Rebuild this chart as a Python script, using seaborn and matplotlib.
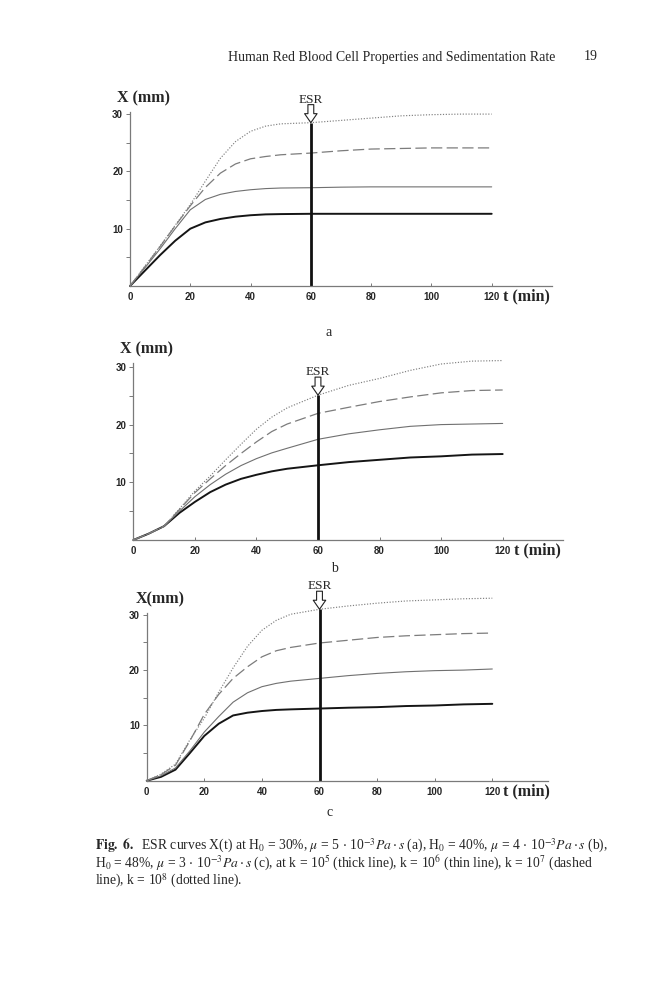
import numpy as np
import pandas as pd
import matplotlib
matplotlib.use("Agg")
import matplotlib.pyplot as plt
import seaborn as sns

# ---------------- data ----------------
t_points = [0, 5, 10, 15, 20, 25, 30, 35, 40, 45, 50, 60, 70, 80, 90, 100, 110, 120]

# panel a : H0 = 30 %
a_thick  = [0, 2.7, 5.4, 7.9, 10.0, 11.1, 11.7, 12.1, 12.35, 12.5, 12.55, 12.6, 12.6, 12.6, 12.6, 12.6, 12.6, 12.6]
a_thin   = [0, 3.2, 6.5, 10.0, 13.3, 15.1, 16.0, 16.5, 16.8, 17.0, 17.1, 17.15, 17.25, 17.3, 17.3, 17.3, 17.3, 17.3]
a_dashed = [0, 3.4, 6.9, 10.5, 14.0, 17.2, 19.7, 21.3, 22.2, 22.6, 22.9, 23.2, 23.6, 23.9, 24.0, 24.1, 24.1, 24.1]
a_dotted = [0, 3.5, 7.0, 10.6, 14.2, 18.3, 22.3, 25.2, 27.0, 27.9, 28.3, 28.5, 28.9, 29.3, 29.7, 29.9, 30.0, 30.0]

# panel b : H0 = 40 %
b_thick  = [0, 1.1, 2.4, 4.7, 6.6, 8.3, 9.6, 10.6, 11.3, 11.9, 12.35, 12.95, 13.5, 13.9, 14.3, 14.5, 14.8, 14.9]
b_thin   = [0, 1.1, 2.4, 5.0, 7.5, 9.6, 11.4, 12.9, 14.1, 15.1, 15.9, 17.45, 18.4, 19.1, 19.7, 20.0, 20.1, 20.2]
b_dashed = [0, 1.1, 2.4, 5.3, 8.2, 10.6, 12.9, 15.0, 17.0, 18.8, 20.1, 21.95, 23.0, 24.0, 24.8, 25.5, 25.9, 26.0]
b_dotted = [0, 1.1, 2.4, 5.4, 8.5, 11.1, 13.9, 16.6, 19.2, 21.3, 22.9, 25.1, 26.8, 28.0, 29.4, 30.5, 31.0, 31.1]

# panel c : H0 = 48 %
c_thick  = [0, 0.7, 2.0, 5.0, 8.1, 10.3, 11.8, 12.3, 12.6, 12.8, 12.9, 13.05, 13.2, 13.3, 13.5, 13.6, 13.8, 13.9]
c_thin   = [0, 0.9, 2.3, 5.4, 8.8, 11.6, 14.2, 15.9, 17.0, 17.6, 18.0, 18.5, 19.0, 19.4, 19.7, 19.9, 20.0, 20.2]
c_dashed = [0, 1.1, 2.8, 7.2, 12.0, 15.6, 18.5, 20.6, 22.4, 23.5, 24.1, 24.9, 25.4, 25.9, 26.2, 26.4, 26.6, 26.7]
c_dotted = [0, 1.2, 3.0, 7.4, 11.3, 16.0, 20.4, 24.3, 27.2, 29.0, 30.1, 31.0, 31.6, 32.1, 32.5, 32.7, 32.9, 33.0]

esr_time = 60
x_ticks = [0, 20, 40, 60, 80, 100, 120]
y_major = [10, 20, 30]
y_minor = [5, 15, 25]
panel_letters = ["a", "b", "c"]
y_labels = ["X (mm)", "X (mm)", "X(mm)"]
x_label = "t (min)"
header = "Human Red Blood Cell Properties and Sedimentation Rate"
page_no = "19"

# ---------------- style ----------------
sns.set_style("white")
plt.rcParams["font.family"] = ["Liberation Serif", "DejaVu Serif"]
plt.rcParams["mathtext.fontset"] = "stix"

W, H = 659, 1000
fig = plt.figure(figsize=(W / 100, H / 100), dpi=100)

# axes boxes in pixels: (x0, y0 baseline, px per minute, px per mm, xmax, ymax)
boxes = [
    (130.0, 286.0, 3.014, 5.73, 140.0, 30.4),
    (133.3, 540.0, 3.078, 5.77, 139.6, 30.7),
    (146.7, 780.7, 2.880, 5.53, 139.3, 30.3),
]
letter_pos = [(329, 333), (334, 569), (330, 812)]

panels = [
    (a_thick, a_thin, a_dashed, a_dotted),
    (b_thick, b_thin, b_dashed, b_dotted),
    (c_thick, c_thin, c_dashed, c_dotted),
]
series_names = ["thick", "thin", "dashed", "dotted"]
line_styles = {
    "thick": dict(color="#151515", lw=1.4, ls="-"),
    "thin": dict(color="#707070", lw=0.8, ls="-"),
    "dashed": dict(color="#7c7c7c", lw=0.9, ls=(0, (9, 3.5))),
    "dotted": dict(color="#808080", lw=0.85, ls=(0, (1, 1.4))),
}

for i, (box, series) in enumerate(zip(boxes, panels)):
    x0, y0, sx, sy, xmax, ymax = box
    left = x0 / W
    bottom = 1 - y0 / H
    width = xmax * sx / W
    height = ymax * sy / H
    ax = fig.add_axes([left, bottom, width, height])
    ax.set_facecolor("none")

    for name, vals in zip(series_names, series):
        st = line_styles[name]
        df = pd.DataFrame({"t": t_points, "x": vals})
        sns.lineplot(data=df, x="t", y="x", ax=ax, color=st["color"],
                     linewidth=st["lw"], linestyle=st["ls"], estimator=None,
                     errorbar=None, clip_on=False)

    dotted = series[3]
    esr_val = dotted[t_points.index(esr_time)]
    ax.vlines(esr_time, 0, esr_val, color="#111111", lw=2.0, clip_on=False)
    ax.annotate("", xy=(esr_time, esr_val), xycoords="data",
                xytext=(0, 13), textcoords="offset points",
                arrowprops=dict(arrowstyle="simple,head_length=0.65,head_width=0.9,tail_width=0.42",
                                fc="white", ec="#222222", lw=0.8,
                                shrinkA=0, shrinkB=0, mutation_scale=10),
                annotation_clip=False)
    ax.annotate("ESR", xy=(esr_time, esr_val), xycoords="data",
                xytext=(0, 14.5), textcoords="offset points",
                ha="center", va="baseline", fontsize=9.5,
                annotation_clip=False)

    ax.set_xlim(0, xmax)
    ax.set_ylim(0, ymax)
    ax.set_xticks(x_ticks)
    ax.set_yticks(y_major)
    ax.set_yticks(y_minor, minor=True)
    ax.set_xlabel("")
    ax.set_ylabel("")
    for s in ["top", "right"]:
        ax.spines[s].set_visible(False)
    for s in ["left", "bottom"]:
        ax.spines[s].set_color("#7a7a7a")
        ax.spines[s].set_linewidth(0.9)
    ax.tick_params(axis="y", which="both", direction="out", length=3, width=0.7,
                   color="#7a7a7a", pad=2, labelsize=7, left=True)
    ax.tick_params(axis="x", which="both", direction="in", length=2.5, width=0.7,
                   color="#7a7a7a", pad=4.5, labelsize=7, bottom=True)
    for lab in ax.get_xticklabels() + ax.get_yticklabels():
        lab.set_fontfamily("Liberation Sans")
        lab.set_fontweight("bold")

    ax.annotate(y_labels[i], xy=(0, 1), xycoords="axes fraction",
                xytext=(9.5, 10), textcoords="offset points",
                ha="center", va="center", fontsize=11.5, fontweight="bold")
    ax.annotate(x_label, xy=(120, 0), xycoords="data",
                xytext=(8, -7.5), textcoords="offset points",
                ha="left", va="center", fontsize=11.5, fontweight="bold",
                annotation_clip=False)

    lx, ly = letter_pos[i]
    fig.text(lx / W, 1 - ly / H, panel_letters[i], ha="center", va="center", fontsize=10)

fig.text(228 / W, 1 - 57 / H, header, ha="left", va="center", fontsize=10)
fig.text(598 / W, 1 - 57 / H, page_no, ha="right", va="center", fontsize=10)

cap1 = (r"$\mathbf{Fig.\ 6.}$  ESR curves X(t) at H$_0$ = 30%, $\mu$ = 5$\,\cdot\,$10$^{-3}$$Pa\cdot s$ (a), "
        r"H$_0$ = 40%, $\mu$ = 4$\,\cdot\,$10$^{-3}$$Pa\cdot s$ (b),")
cap2 = (r"H$_0$ = 48%, $\mu$ = 3$\,\cdot\,$10$^{-3}$$Pa\cdot s$ (c), at k = 10$^5$ (thick line), "
        r"k = 10$^6$ (thin line), k = 10$^7$ (dashed")
cap3 = r"line), k = 10$^8$ (dotted line)."
for k, c in enumerate([cap1, cap2, cap3]):
    fig.text(95 / W, 1 - (850 + 17.5 * k) / H, c, ha="left", va="baseline", fontsize=9.8)

fig.savefig("out.png", dpi=100)
